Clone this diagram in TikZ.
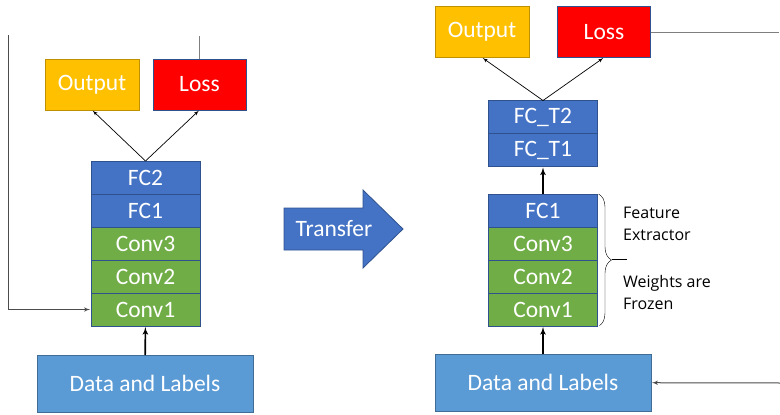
\documentclass[tikz,border=0pt]{standalone}
\usepackage{fontspec}
\setmainfont{Carlito}
\newfontfamily\notefont{Open Sans}
\usetikzlibrary{positioning,arrows,decorations.pathreplacing}
\definecolor{fcblue}{HTML}{4472C4}
\definecolor{convgreen}{HTML}{70AD47}
\definecolor{outorange}{HTML}{FFC000}
\definecolor{lossred}{HTML}{FF0000}
\definecolor{datablue}{HTML}{5B9BD5}
\definecolor{edgeblue}{HTML}{2F528F}
\definecolor{linegray}{HTML}{7F7F7F}

\begin{document}
\begin{tikzpicture}[x=1pt,y=-1pt,>=latex',shorten >=1pt,
  layer/.style={rectangle,draw=edgeblue,line width=0.8pt,text=white,font=\fontsize{23.5}{28}\selectfont,minimum width=109pt,minimum height=33pt,inner sep=0pt,outer sep=0pt},
  fc layer/.style={layer,fill=fcblue},
  conv layer/.style={layer,fill=convgreen},
  out box/.style={layer,fill=outorange,draw=outorange!75!black,minimum width=94pt,minimum height=51pt},
  loss box/.style={layer,fill=lossred,minimum width=93pt,minimum height=51pt},
  data box/.style={layer,fill=datablue,draw=datablue!70!black,minimum width=216pt,minimum height=57pt},
  note/.style={font=\notefont\fontsize{16}{22}\selectfont,align=left,anchor=west,inner sep=0pt}]
\useasboundingbox (0,0) rectangle (780,415);
% left network
  \node[conv layer] (lc1) at (145.5,309.5) {Conv1};
  \node[conv layer] (lc2) [above=0pt of lc1] {Conv2};
  \node[conv layer] (lc3) [above=0pt of lc2] {Conv3};
  \node[fc layer] (lf1) [above=0pt of lc3] {FC1};
  \node[fc layer] (lf2) [above=0pt of lf1] {FC2};
  \node[out box] (lout) at (92,84.5) {Output};
  \node[loss box] (lloss) at (199.5,84.5) {Loss};
  \node[data box] (ldata) at (145,383.5) {Data and Labels};
  \coordinate (lback) at (8,35);
  \coordinate (lup) at (199.5,35);
  %edges
  \path[->,line width=0.7pt]
    (lf2.north) edge (lout.south)
    (lf2.north) edge (lloss.south);
  \draw[->,line width=1.6pt] (ldata) -- (lc1);
  \draw[linegray,line width=1pt] (lloss.north) -- (lup);
  \draw[->,black!70,line width=1pt] (lback) |- (lc1.west);

% transfer arrow
  \filldraw[fill=fcblue,draw=edgeblue,line width=0.8pt] (284,208) -- (363,208) -- (363,190) -- (403,229) -- (363,268) -- (363,250) -- (284,250) -- cycle;
  \node[text=white,font=\fontsize{23.5}{28}\selectfont] (transfer) at (334,229) {Transfer};

% right network
  \node[conv layer] (rc1) at (543,309.5) {Conv1};
  \node[conv layer] (rc2) [above=0pt of rc1] {Conv2};
  \node[conv layer] (rc3) [above=0pt of rc2] {Conv3};
  \node[fc layer] (rf1) [above=0pt of rc3] {FC1};
  \node[fc layer] (rt1) at (543,150) {FC\_T1};
  \node[fc layer] (rt2) [above=0pt of rt1] {FC\_T2};
  \node[out box] (rout) at (482,32) {Output};
  \node[loss box] (rloss) at (604,32) {Loss};
  \node[data box] (rdata) at (543,382.5) {Data and Labels};
  \node[note] (feat) at (623,224) {Feature\\Extractor};
  \node[note] (frozen) at (623,292) {Weights are\\Frozen};
  \coordinate (rend) at (780,32);
  \coordinate (rin) at (780,383);
  \coordinate (btip) at (612,259.5);
  \coordinate (bend) at (628,259.5);
  %edges
  \path[->,line width=0.7pt]
    (rt2.north) edge (rout.south)
    (rt2.north) edge (rloss.south);
  \draw[->,line width=1.6pt] (rf1) -- (rt1);
  \draw[->,line width=1.6pt] (rdata) -- (rc1);
  \draw[linegray,line width=1pt] (rloss) -- (rend);
  \draw[->,black!70,line width=1pt] (rin) -- (rdata);
  \draw[decorate,decoration={brace,amplitude=13pt,raise=1pt},line width=0.4pt] (rf1.north east) -- (rc1.south east);
  \draw[line width=0.8pt] (btip) -- (bend);
\end{tikzpicture}
\end{document}
